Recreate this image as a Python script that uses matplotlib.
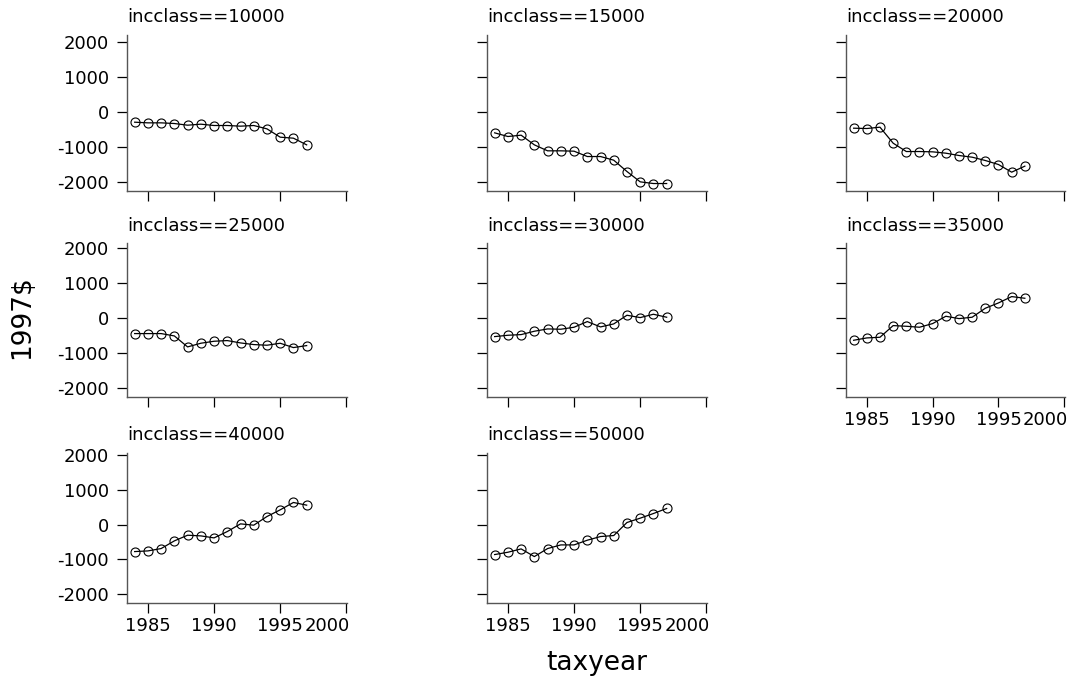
import matplotlib
matplotlib.use("Agg")
import matplotlib.pyplot as plt
from matplotlib.transforms import ScaledTranslation

years = list(range(1984, 1998))
classes = ["10000", "15000", "20000", "25000", "30000", "35000", "40000", "50000"]

v10000 = [-296, -315, -315, -334, -382, -353, -391, -391, -410, -391, -487, -725, -754, -945]
v15000 = [-601, -706, -668, -945, -1116, -1116, -1126, -1279, -1279, -1384, -1708, -2004, -2052, -2052]
v20000 = [-468, -477, -439, -897, -1136, -1136, -1145, -1183, -1250, -1298, -1393, -1508, -1727, -1555]
v25000 = [-438, -438, -438, -505, -819, -714, -657, -638, -705, -752, -771, -714, -838, -781]
v30000 = [-524, -486, -467, -371, -305, -314, -257, -95, -248, -162, 86, 19, 114, 29]
v35000 = [-629, -562, -543, -210, -229, -257, -152, 57, -10, 29, 286, 438, 619, 571]
v40000 = [-779, -760, -692, -471, -308, -327, -385, -202, 19, -19, 231, 423, 635, 558]
v50000 = [-865, -798, -702, -923, -692, -587, -587, -452, -346, -317, 58, 183, 317, 462]
series = [v10000, v15000, v20000, v25000, v30000, v35000, v40000, v50000]

xticks = [1985, 1990, 1995, 2000]
yticks = [-2000, -1000, 0, 1000, 2000]

plt.rcParams["font.family"] = "DejaVu Sans"
plt.rcParams["axes.unicode_minus"] = False

W, H = 1078, 679
fig = plt.figure(figsize=(W / 100, H / 100), dpi=100)

# panel boxes in pixels: (left, right) per column, (top, bottom, ylim) per row
cols = [(127, 347), (487, 707), (846, 1065)]
rows = [(35, 191, (-2266, 2200)), (243, 397, (-2250, 2150)), (453, 603, (-2260, 2060))]
has_xlab = {5, 6, 7}

for k, (name, vals) in enumerate(zip(classes, series)):
    r, c = divmod(k, 3)
    l, rr = cols[c]
    t, b, ylim = rows[r]
    ax = fig.add_axes([l / W, 1 - b / H, (rr - l) / W, (b - t) / H])
    ax.plot(years, vals, color="black", lw=0.9, marker="o", ms=6.5,
            mfc="none", mec="black", mew=0.8)
    ax.set_xlim(1983.42, 2000.05)
    ax.set_ylim(*ylim)
    ax.set_xticks(xticks)
    ax.set_yticks(yticks)
    for s in ("top", "right"):
        ax.spines[s].set_visible(False)
    for s in ("left", "bottom"):
        ax.spines[s].set_color("#555555")
        ax.spines[s].set_linewidth(1.0)
    ax.tick_params(direction="out", length=7, width=0.9, color="black",
                   labelsize=13, colors="black")
    ax.tick_params(axis="y", pad=6)
    ax.tick_params(axis="x", pad=3)
    if c != 0:
        ax.set_yticklabels([])
    if k in has_xlab:
        last = ax.get_xticklabels()[-1]
        last.set_transform(last.get_transform() +
                           ScaledTranslation(-0.19, 0, fig.dpi_scale_trans))
    else:
        ax.set_xticklabels([])
    ax.set_title(f"incclass=={name}", loc="left", fontsize=13, pad=9)

fig.text(22 / W, 1 - 317 / H, "1997$", rotation=90, fontsize=19,
         ha="center", va="center")
fig.text(597 / W, 1 - 663 / H, "taxyear", fontsize=19, ha="center", va="center")

fig.savefig("out.png", dpi=100, facecolor="white")
